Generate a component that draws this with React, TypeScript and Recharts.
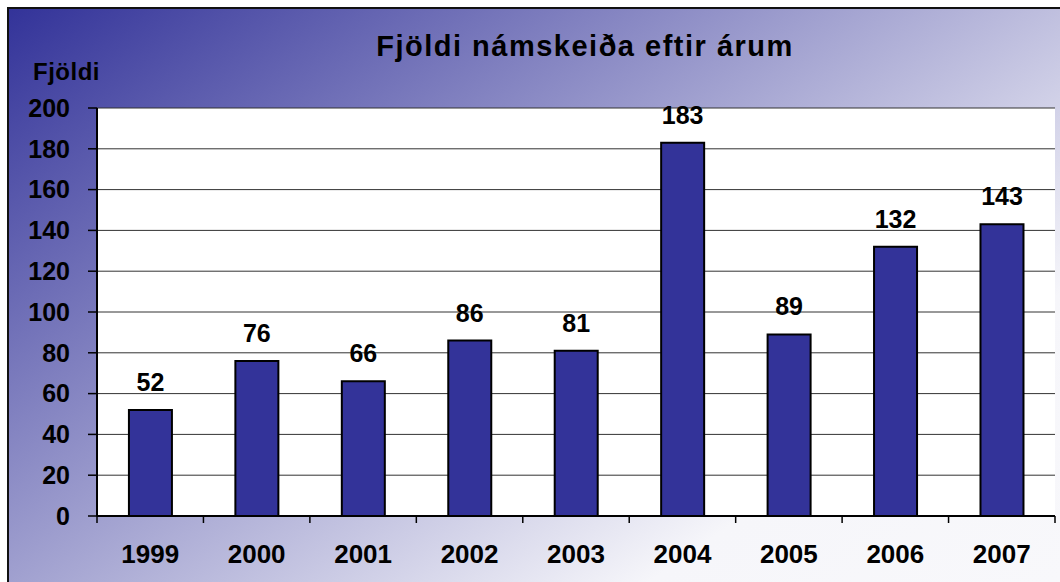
import React from 'react';
import { Bar, BarChart, CartesianGrid, LabelList, XAxis, YAxis } from 'recharts';

// ----------------------
// DATA
// ----------------------
const years = ['1999', '2000', '2001', '2002', '2003', '2004', '2005', '2006', '2007'];
const counts = [52, 76, 66, 86, 81, 183, 89, 132, 143];
const yTicks = [0, 20, 40, 60, 80, 100, 120, 140, 160, 180, 200];

const data = years.map((year, i) => ({ year, count: counts[i] }));

// ----------------------
// LAYOUT
// ----------------------
const CHART_W = 1051;
const CHART_H = 573;
const Y_AXIS_W = 88;
const RIGHT_M = 5;
const BAND = (CHART_W - Y_AXIS_W - RIGHT_M) / years.length;
const FONT = '"Liberation Sans", Arial, sans-serif';

// x ticks sit between categories, Excel style
const YearTick = ({ x, y, payload, index }: any) => {
  const half = BAND / 2;
  return (
    <g>
      <line x1={x - half} x2={x - half} y1={y} y2={y + 7} stroke="#000" strokeWidth={1.5} />
      {index === years.length - 1 && (
        <line x1={x + half} x2={x + half} y1={y} y2={y + 7} stroke="#000" strokeWidth={1.5} />
      )}
      <text x={x} y={y + 29} dy="0.71em" textAnchor="middle" fontSize={26} fontWeight="bold" fill="#000" fontFamily={FONT}>
        {payload.value}
      </text>
    </g>
  );
};

export default function App() {
  return (
    <div
      style={{
        position: 'absolute',
        left: 7,
        top: 7,
        width: 1053,
        height: 575,
        boxSizing: 'border-box',
        borderTop: '2px solid #111',
        borderLeft: '2px solid #111',
        background: 'linear-gradient(145deg, #333399 0%, #f6f6fa 78%, #f8f8fb 100%)',
        overflow: 'hidden',
        fontFamily: FONT,
      }}
    >
      <div
        style={{
          position: 'absolute',
          left: 585 - 9,
          top: 32 - 9,
          transform: 'translateX(-50%)',
          whiteSpace: 'nowrap',
          fontSize: 29,
          lineHeight: 1,
          fontWeight: 'bold',
          letterSpacing: 1.5,
          color: '#000',
        }}
      >
        Fjöldi námskeiða eftir árum
      </div>
      <div
        style={{
          position: 'absolute',
          left: 33 - 9,
          top: 60 - 9,
          fontSize: 24,
          lineHeight: 1,
          fontWeight: 'bold',
          letterSpacing: 0.5,
          color: '#000',
        }}
      >
        Fjöldi
      </div>
      <BarChart
        width={CHART_W}
        height={CHART_H}
        data={data}
        margin={{ top: 99, right: RIGHT_M, left: 0, bottom: 0 }}
        barCategoryGap="30%"
      >
        <CartesianGrid vertical={false} fill="#ffffff" stroke="#333" strokeWidth={1} />
        <XAxis xAxisId="top" orientation="top" dataKey="year" height={0} tick={false} tickLine={false} axisLine={{ stroke: '#8c8c8c', strokeWidth: 3 }} />
        <YAxis yAxisId="right" orientation="right" width={0} domain={[0, 200]} tick={false} tickLine={false} axisLine={{ stroke: '#8c8c8c', strokeWidth: 3 }} />
        <XAxis
          dataKey="year"
          height={66}
          tickSize={0}
          tickMargin={0}
          tickLine={false}
          axisLine={{ stroke: '#000', strokeWidth: 2 }}
          tick={<YearTick />}
          interval={0}
        />
        <YAxis
          width={Y_AXIS_W}
          domain={[0, 200]}
          ticks={yTicks}
          interval={0}
          tickSize={9}
          tickMargin={18}
          tickLine={{ stroke: '#000', strokeWidth: 1.5 }}
          axisLine={{ stroke: '#000', strokeWidth: 2 }}
          tick={{ fill: '#000', fontSize: 25, fontWeight: 'bold', fontFamily: FONT }}
        />
        <Bar dataKey="count" fill="#333399" stroke="#000" strokeWidth={2} isAnimationActive={false}>
          <LabelList
            dataKey="count"
            position="top"
            offset={19}
            fill="#000"
            fontSize={25}
            fontWeight="bold"
            fontFamily={FONT}
          />
        </Bar>
      </BarChart>
    </div>
  );
}
